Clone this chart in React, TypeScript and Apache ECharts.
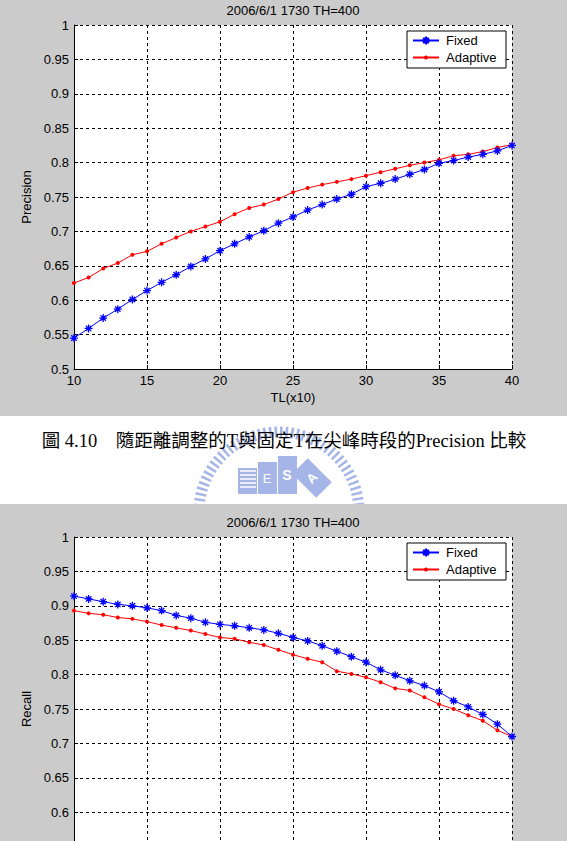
import React, { useEffect, useRef } from "react";
import * as echarts from "echarts";

const tl = [10, 11, 12, 13, 14, 15, 16, 17, 18, 19, 20, 21, 22, 23, 24, 25, 26, 27, 28, 29, 30, 31, 32, 33, 34, 35, 36, 37, 38, 39, 40];

const precisionFixed = [0.545, 0.559, 0.574, 0.587, 0.601, 0.614, 0.626, 0.637, 0.649, 0.660, 0.672, 0.682, 0.692, 0.701, 0.712, 0.721, 0.731, 0.739, 0.747, 0.754, 0.765, 0.770, 0.776, 0.783, 0.790, 0.799, 0.803, 0.808, 0.812, 0.817, 0.825];
const precisionAdaptive = [0.625, 0.633, 0.646, 0.654, 0.666, 0.671, 0.682, 0.691, 0.700, 0.707, 0.714, 0.725, 0.734, 0.739, 0.747, 0.757, 0.763, 0.768, 0.772, 0.776, 0.781, 0.786, 0.791, 0.796, 0.800, 0.804, 0.810, 0.812, 0.816, 0.822, 0.826];

const recallFixed = [0.914, 0.910, 0.906, 0.902, 0.900, 0.897, 0.893, 0.886, 0.882, 0.876, 0.873, 0.871, 0.868, 0.865, 0.860, 0.854, 0.849, 0.842, 0.834, 0.826, 0.818, 0.807, 0.799, 0.791, 0.784, 0.775, 0.762, 0.753, 0.742, 0.728, 0.710];
const recallAdaptive = [0.893, 0.889, 0.887, 0.883, 0.881, 0.877, 0.872, 0.868, 0.864, 0.859, 0.854, 0.852, 0.847, 0.843, 0.836, 0.829, 0.823, 0.818, 0.805, 0.801, 0.796, 0.789, 0.780, 0.777, 0.767, 0.757, 0.750, 0.741, 0.733, 0.719, 0.710];

const seriesNames = ["Fixed", "Adaptive"];
const chartTitle = "2006/6/1 1730 TH=400";
const xName = "TL(x10)";
const yNames = ["Precision", "Recall"];
const caption = "圖 4.10\u3000隨距離調整的T與固定T在尖峰時段的Precision 比較";
// lowest y tick label that is visible for the (page-cropped) lower chart
const recallLowestShownTick = 0.6;

const SANS = '"Liberation Sans", Arial, sans-serif';
const STAR = "path://M5 0L5 10M0 5L10 5M1.6 1.6L8.4 8.4M1.6 8.4L8.4 1.6";
const GRAY = "#cbcbcb";
const LOGO = "#a6b5e8";

function pairs(vals: number[]) {
  return tl.map((x, i) => [x, vals[i]]);
}

export default function App() {
  const ref = useRef<HTMLDivElement>(null);

  useEffect(() => {
    if (!ref.current) return;
    const chart = echarts.init(ref.current, null, { renderer: "svg" });

    const gridLine = { show: true, lineStyle: { color: "#000", type: [3, 3] as any, width: 1 } };
    const axisLine = { show: true, onZero: false, lineStyle: { color: "#000", width: 1 } };
    const axisTick = { show: true, inside: true, length: 4, lineStyle: { color: "#000" } };
    const labelStyle = { color: "#000", fontSize: 13, fontFamily: SANS };
    const yFmt = (lowest: number) => (v: number) =>
      v < lowest - 1e-9 ? "" : String(parseFloat(v.toFixed(2)));

    const xAxisBase = (gi: number, showLabels: boolean) => ({
      type: "value",
      gridIndex: gi,
      min: 10,
      max: 40,
      interval: 5,
      splitLine: gridLine,
      axisLine,
      axisTick,
      axisLabel: { show: showLabels, margin: 5, ...labelStyle },
      name: showLabels ? xName : "",
      nameLocation: "middle",
      nameGap: 22,
      nameTextStyle: labelStyle,
    });
    const yAxisBase = (gi: number, name: string, lowest: number) => ({
      type: "value",
      gridIndex: gi,
      min: 0.5,
      max: 1,
      interval: 0.05,
      splitLine: gridLine,
      axisLine,
      axisTick,
      axisLabel: { margin: 5, formatter: yFmt(lowest), ...labelStyle },
      name,
      nameLocation: "middle",
      nameRotate: 90,
      nameGap: 39,
      nameTextStyle: labelStyle,
    });

    const fixedSeries = (gi: number, vals: number[]) => ({
      name: seriesNames[0],
      type: "line",
      xAxisIndex: gi,
      yAxisIndex: gi,
      data: pairs(vals),
      symbol: STAR,
      symbolSize: 8,
      showAllSymbol: true,
      lineStyle: { color: "#0000ff", width: 1 },
      itemStyle: { color: "#0000ff", borderColor: "#0000ff", borderWidth: 1.3 },
      emphasis: { disabled: true },
      z: 3,
    });
    const adaptiveSeries = (gi: number, vals: number[]) => ({
      name: seriesNames[1],
      type: "line",
      xAxisIndex: gi,
      yAxisIndex: gi,
      data: pairs(vals),
      symbol: "circle",
      symbolSize: 4,
      showAllSymbol: true,
      lineStyle: { color: "#ff0000", width: 1 },
      itemStyle: { color: "#ff0000", borderWidth: 0 },
      emphasis: { disabled: true },
      z: 3,
    });

    // one borderless legend per entry, so each icon can have its own marker size
    const legendItem = (name: string, top: number, iconH: number) => ({
      left: 412,
      top,
      orient: "vertical",
      data: [name],
      padding: 0,
      itemWidth: 26,
      itemHeight: iconH,
      selectedMode: false,
      z: 6,
      textStyle: { color: "#000", fontSize: 13, fontFamily: SANS, padding: [0, 0, 0, 2] },
    });
    const legendBox = (top: number) => ({
      type: "rect",
      z: 5,
      shape: { x: 407, y: top, width: 99, height: 37 },
      style: { fill: "#fff", stroke: "#000", lineWidth: 1 },
    });

    const stripes = [0, 1, 2, 3, 4].map((k) => ({
      type: "line",
      z: -20,
      shape: { x1: 240, y1: 471 + k * 4, x2: 256, y2: 471 + k * 4 },
      style: { stroke: "#fff", lineWidth: 1.5 },
    }));

    chart.setOption({
      animation: false,
      backgroundColor: "#fff",
      grid: [
        { left: 74, top: 25, width: 438, height: 344, show: true, backgroundColor: "#fff", borderWidth: 0 },
        { left: 74, top: 537, width: 438, height: 344, show: true, backgroundColor: "#fff", borderWidth: 0 },
      ],
      xAxis: [xAxisBase(0, true), xAxisBase(1, false)],
      yAxis: [yAxisBase(0, yNames[0], 0.5), yAxisBase(1, yNames[1], recallLowestShownTick)],
      legend: [
        legendItem(seriesNames[0], 34, 10),
        legendItem(seriesNames[1], 51, 5),
        legendItem(seriesNames[0], 546, 10),
        legendItem(seriesNames[1], 563, 5),
      ],
      series: [
        adaptiveSeries(0, precisionAdaptive),
        fixedSeries(0, precisionFixed),
        adaptiveSeries(1, recallAdaptive),
        fixedSeries(1, recallFixed),
      ],
      graphic: [
        // watermark logo (drawn below the gray panels)
        {
          type: "arc",
          z: -30,
          shape: { cx: 279, cy: 512, r: 80, startAngle: Math.PI, endAngle: Math.PI * 2, clockwise: true },
          style: { stroke: LOGO, lineWidth: 11, fill: "none", lineDash: [2.5, 3] },
        },
        { type: "rect", z: -25, shape: { x: 238, y: 468, width: 19, height: 26 }, style: { fill: LOGO } },
        ...stripes,
        { type: "rect", z: -25, shape: { x: 258, y: 462, width: 19, height: 32 }, style: { fill: LOGO } },
        { type: "rect", z: -25, shape: { x: 278, y: 456, width: 19, height: 38 }, style: { fill: LOGO } },
        {
          type: "rect",
          z: -25,
          x: 312,
          y: 478,
          rotation: Math.PI / 4,
          shape: { x: -11, y: -17, width: 22, height: 34 },
          style: { fill: LOGO },
        },
        { type: "text", z: -19, x: 267, y: 478, style: { text: "E", fill: "#fff", font: '13px "Liberation Sans"', align: "center", verticalAlign: "middle" } },
        { type: "text", z: -19, x: 287, y: 475, style: { text: "S", fill: "#fff", font: 'bold 14px "Liberation Sans"', align: "center", verticalAlign: "middle" } },
        { type: "text", z: -19, x: 312, y: 478, rotation: Math.PI / 4, style: { text: "A", fill: "#fff", font: 'bold 13px "Liberation Sans"', align: "center", verticalAlign: "middle" } },
        // gray figure panels
        { type: "rect", z: -10, shape: { x: 0, y: 0, width: 567, height: 416 }, style: { fill: GRAY } },
        { type: "rect", z: -10, shape: { x: 0, y: 504, width: 567, height: 400 }, style: { fill: GRAY } },
        // legend frames
        legendBox(31),
        legendBox(543),
        // titles
        { type: "text", z: 5, x: 293, y: 10, style: { text: chartTitle, fill: "#000", font: `13px ${SANS}`, align: "center", verticalAlign: "middle" } },
        { type: "text", z: 5, x: 293, y: 522, style: { text: chartTitle, fill: "#000", font: `13px ${SANS}`, align: "center", verticalAlign: "middle" } },
        // caption
        {
          type: "text",
          z: 5,
          x: 284,
          y: 441,
          style: {
            text: caption,
            fill: "#000",
            font: '18.5px "Liberation Serif", "Noto Sans CJK TC", serif',
            align: "center",
            verticalAlign: "middle",
          },
        },
      ],
    });

    return () => chart.dispose();
  }, []);

  return (
    <div style={{ position: "absolute", left: 0, top: 0, width: 567, height: 841, overflow: "hidden", background: "#fff" }}>
      <div ref={ref} style={{ width: 567, height: 900 }} />
    </div>
  );
}
